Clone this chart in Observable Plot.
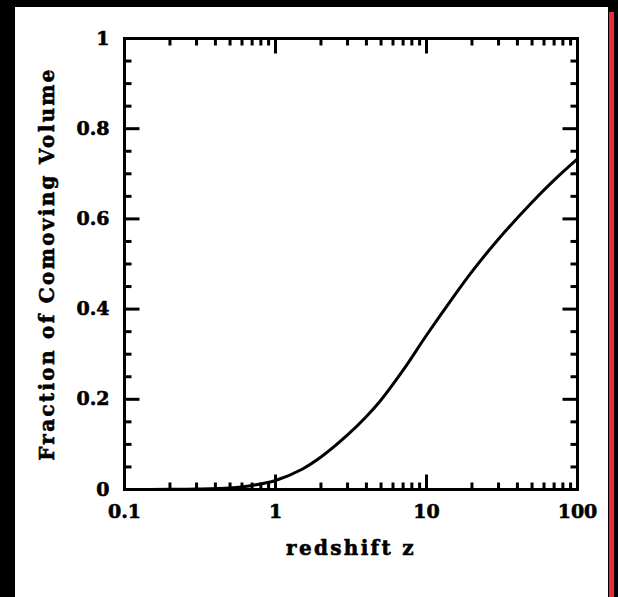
<!DOCTYPE html>
<html><head><meta charset="utf-8">
<script src="https://cdn.jsdelivr.net/npm/d3@7"></script>
<script src="https://cdn.jsdelivr.net/npm/@observablehq/plot@0.6"></script>
<style>
html,body{margin:0;padding:0;background:#000;width:618px;height:597px;overflow:hidden;}
#panel{position:absolute;left:15px;top:7px;width:593px;height:590px;background:#fff;}
#redbar{position:absolute;left:609px;top:12px;width:5px;height:585px;background:#f0283f;}
#chart{position:absolute;left:0;top:0;}
.title text{letter-spacing:2.3px;}
</style></head><body>
<div id="panel"></div><div id="redbar"></div><div id="chart"></div>
<script>
// Data
const redshift = [0.1, 0.2, 0.3, 0.5, 0.7, 1, 1.5, 2, 3, 4, 5, 7, 10, 15, 20, 30, 50, 70, 100];
const fraction = [0.0000, 0.0003, 0.0009, 0.0035, 0.009, 0.020, 0.045, 0.072, 0.121, 0.162, 0.1985, 0.2645, 0.342, 0.426, 0.483, 0.5555, 0.637, 0.686, 0.733];

const xMajorTicks = [0.1, 1, 10, 100];
const xTickLabels = ["0.1", "1", "10", "100"];
const xMinorTicks = [0.2, 0.3, 0.4, 0.5, 0.6, 0.7, 0.8, 0.9, 2, 3, 4, 5, 6, 7, 8, 9, 20, 30, 40, 50, 60, 70, 80, 90];
const yMajorTicks = [0, 0.2, 0.4, 0.6, 0.8, 1];
const yTickLabels = ["0", "0.2", "0.4", "0.6", "0.8", "1"];
const yMinorTicks = [0.05, 0.1, 0.15, 0.25, 0.3, 0.35, 0.45, 0.5, 0.55, 0.65, 0.7, 0.75, 0.85, 0.9, 0.95];
const xTitle = "redshift z";
const yTitle = "Fraction of Comoving Volume";

const curveData = redshift.map((z, i) => ({z, f: fraction[i]}));

const tickLine = {draw(context, l) { context.moveTo(0, 0); context.lineTo(0, -l); }};
const MAJ = 15, MIN = 7, SW = 3;
function ticks(values, pos, len, rotate, axis) {
  return Plot.vector(values, {
    x: axis === "x" ? d => d : () => pos,
    y: axis === "x" ? () => pos : d => d,
    length: len, rotate, anchor: "start", shape: tickLine,
    stroke: "black", strokeWidth: SW, strokeLinecap: "butt"
  });
}
const textStyle = {fill: "black", stroke: "black", strokeWidth: 0.6};

const chart = Plot.plot({
  width: 618, height: 597,
  marginLeft: 124, marginRight: 41, marginTop: 38, marginBottom: 108,
  style: {background: "transparent", fontFamily: "'DejaVu Serif', serif", fontWeight: "bold", fontSize: "19px", color: "black"},
  x: {type: "log", domain: [0.1, 100], axis: null},
  y: {domain: [0, 1], axis: null},
  marks: [
    ticks(xMajorTicks, 0, MAJ, 0, "x"),
    ticks(xMinorTicks, 0, MIN, 0, "x"),
    ticks(xMajorTicks, 1, MAJ, 180, "x"),
    ticks(xMinorTicks, 1, MIN, 180, "x"),
    ticks(yMajorTicks, 0.1, MAJ, 90, "y"),
    ticks(yMinorTicks, 0.1, MIN, 90, "y"),
    ticks(yMajorTicks, 100, MAJ, -90, "y"),
    ticks(yMinorTicks, 100, MIN, -90, "y"),
    Plot.frame({stroke: "black", strokeWidth: SW}),
    Plot.line(curveData, {x: "z", y: "f", curve: "catmull-rom", stroke: "black", strokeWidth: 3}),
    Plot.text(xMajorTicks, {x: d => d, frameAnchor: "bottom", dy: 22, lineAnchor: "middle", textAnchor: "middle", text: (d, i) => xTickLabels[i], fontSize: 19, ...textStyle}),
    Plot.text(yMajorTicks, {y: d => d, frameAnchor: "left", dx: -15, lineAnchor: "middle", textAnchor: "end", text: (d, i) => yTickLabels[i], fontSize: 19, ...textStyle}),
    Plot.text([xTitle], {frameAnchor: "bottom", dy: 59, lineAnchor: "middle", textAnchor: "middle", fontSize: 20, className: "title", ...textStyle}),
    Plot.text([yTitle], {frameAnchor: "left", dx: -77, rotate: -90, lineAnchor: "middle", textAnchor: "middle", fontSize: 20, className: "title", ...textStyle})
  ]
});
document.getElementById("chart").appendChild(chart);
</script>
</body></html>
